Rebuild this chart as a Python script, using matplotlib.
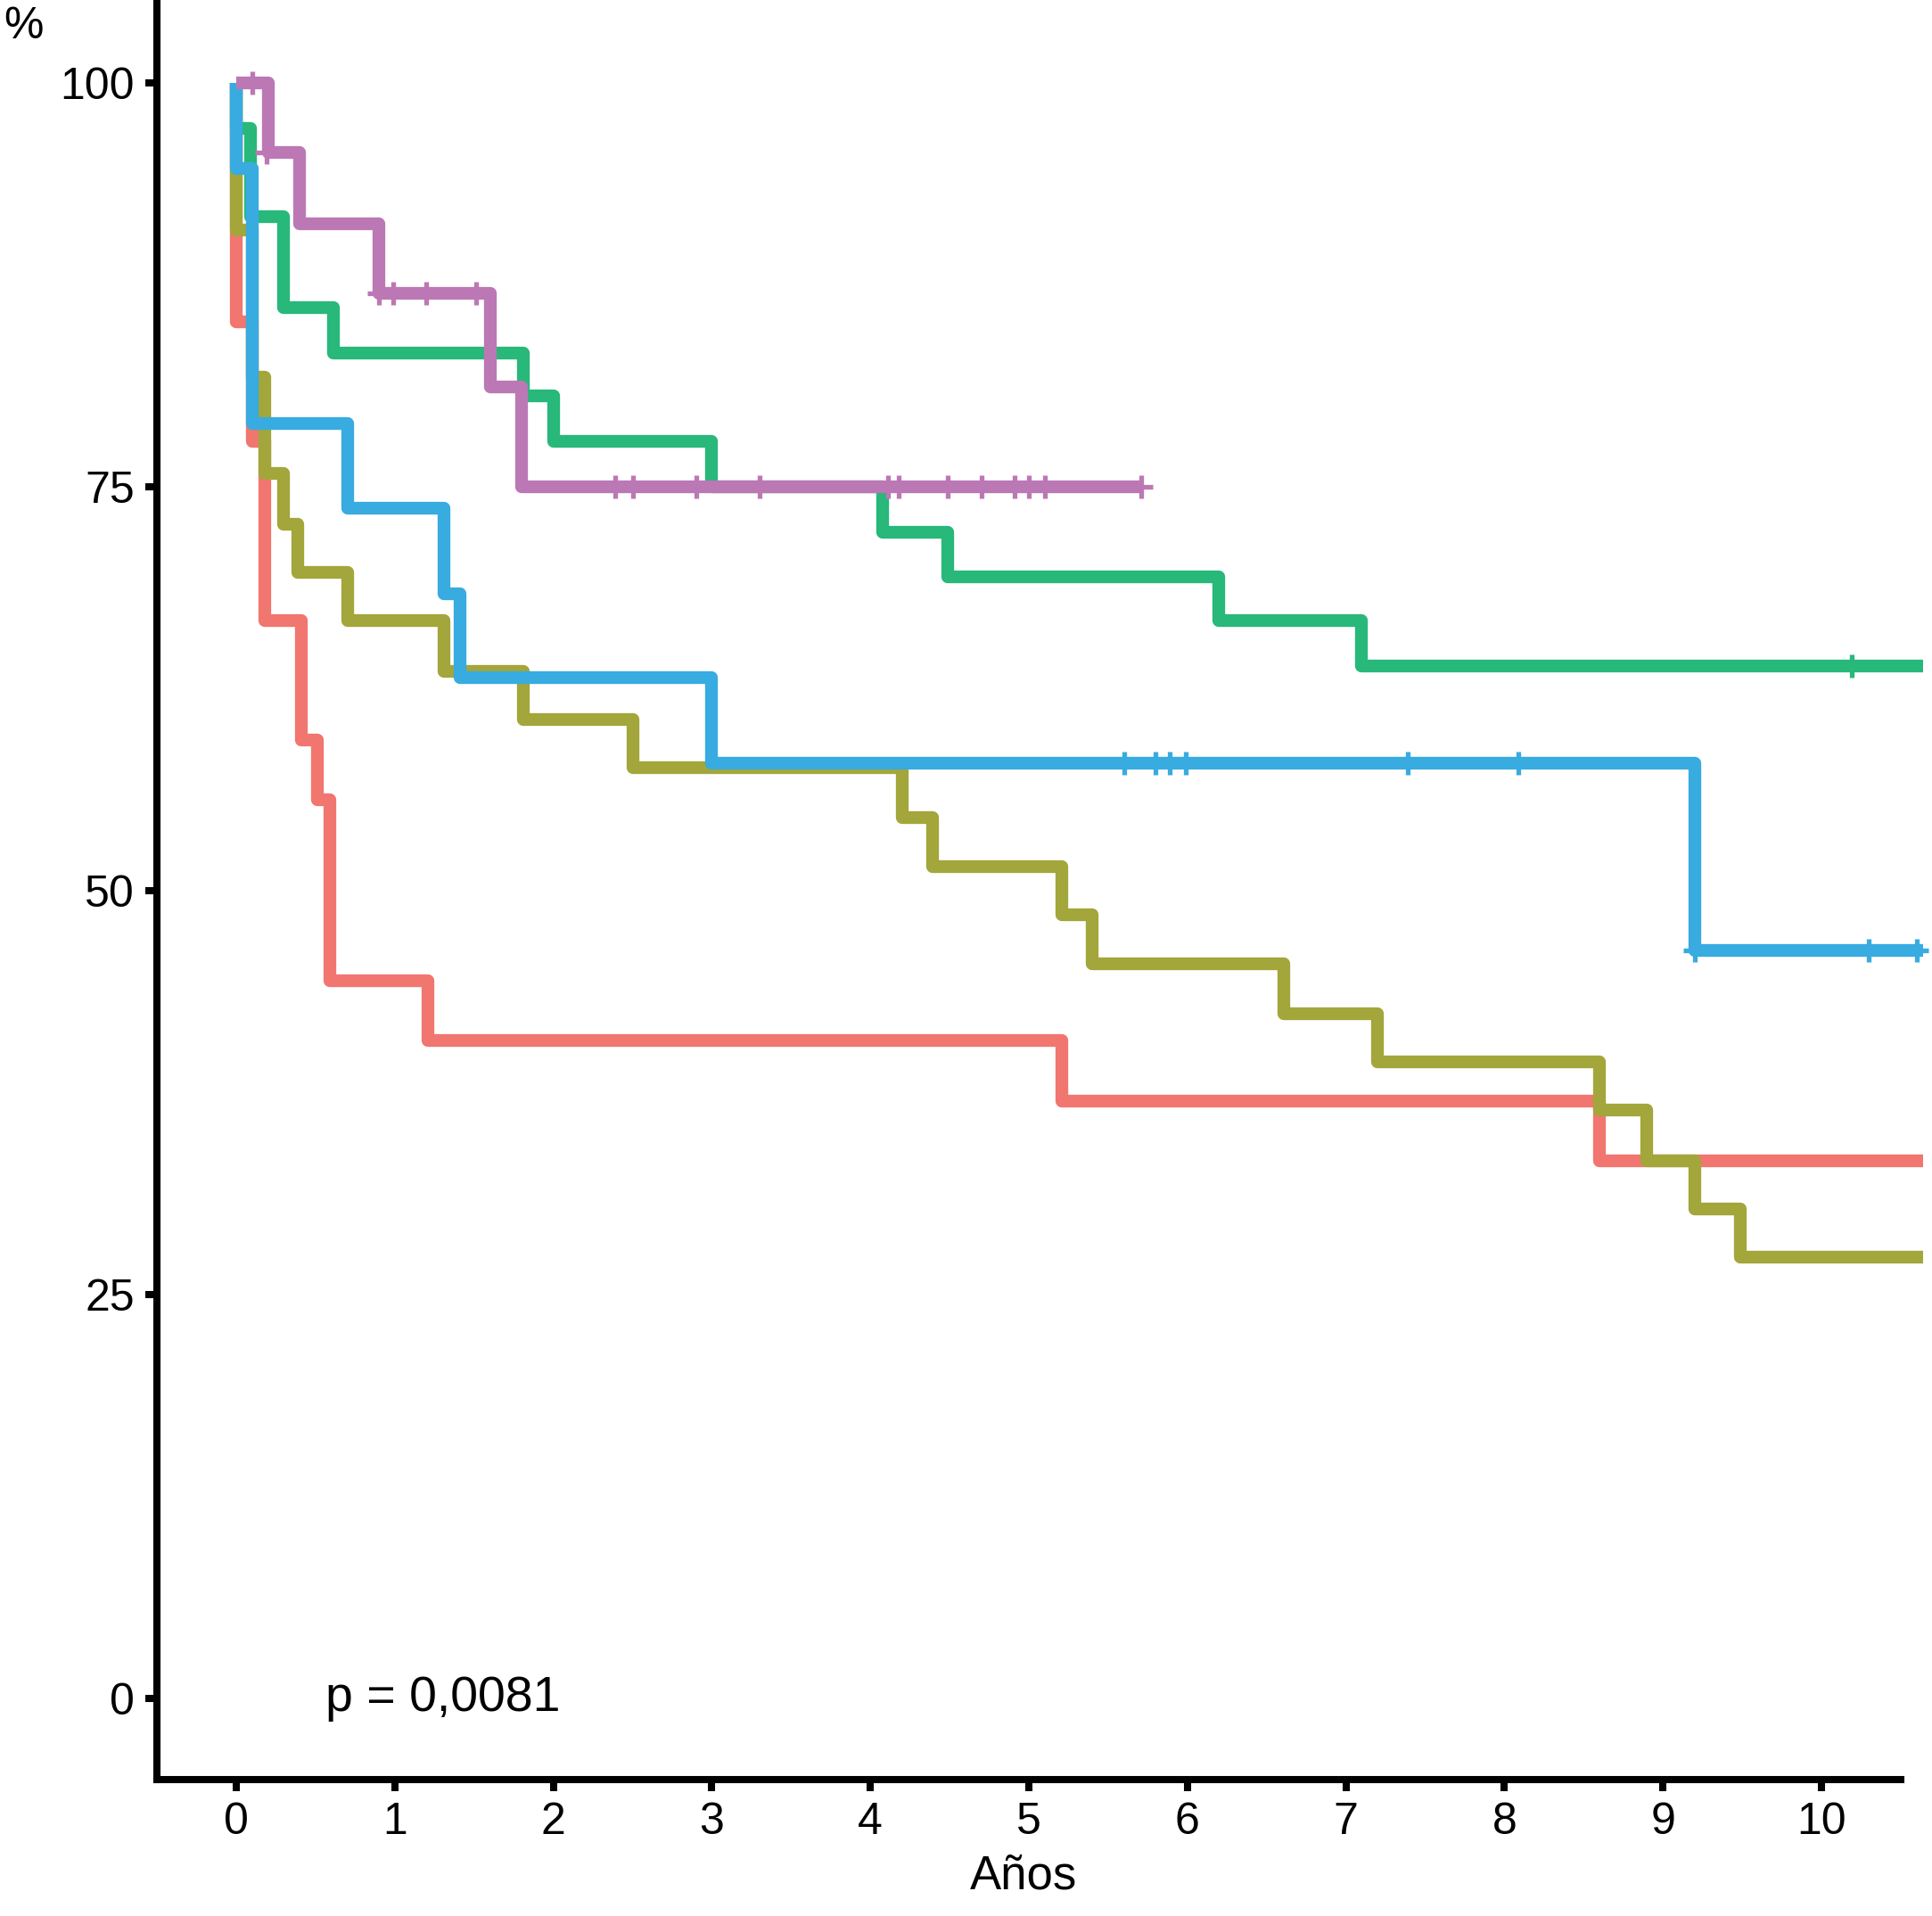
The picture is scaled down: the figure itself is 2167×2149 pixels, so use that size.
import matplotlib
matplotlib.use("Agg")
import matplotlib.pyplot as plt

plt.rcParams['font.family'] = ['Liberation Sans', 'DejaVu Sans']

# Kaplan-Meier curves (time in years, survival in %)
red_t = [0, 0, 0.10, 0.18, 0.41, 0.51, 0.59, 1.21, 5.21, 8.60, 10.64]
red_s = [100, 85.2, 77.8, 66.7, 59.3, 55.6, 44.4, 40.7, 37.0, 33.3, 33.3]

olive_t = [0, 0, 0.10, 0.18, 0.30, 0.39, 0.70, 1.31, 1.81, 2.50, 4.20, 4.39,
           5.21, 5.40, 6.61, 7.20, 8.60, 8.90, 9.20, 9.49, 10.64]
olive_s = [100, 90.9, 81.8, 75.8, 72.7, 69.7, 66.7, 63.6, 60.6, 57.6, 54.5, 51.5,
           48.5, 45.5, 42.4, 39.4, 36.4, 33.3, 30.3, 27.3, 27.3]

green_t = [0, 0, 0.09, 0.30, 0.61, 1.81, 2.00, 3.00, 4.08, 4.49, 6.20, 7.10, 10.64]
green_s = [100, 97.2, 91.7, 86.1, 83.3, 80.6, 77.8, 75.0, 72.2, 69.4, 66.7, 63.9, 63.9]
green_cens_t = [10.19]
green_cens_s = [63.9]

blue_t = [0, 0, 0.10, 0.70, 1.31, 1.41, 3.00, 9.20, 10.64]
blue_s = [100, 94.7, 78.9, 73.7, 68.4, 63.2, 57.9, 46.3, 46.3]
blue_cens_t = [5.60, 5.80, 5.89, 5.99, 7.39, 8.09, 9.20, 10.30, 10.60]
blue_cens_s = [57.9, 57.9, 57.9, 57.9, 57.9, 57.9, 46.3, 46.3, 46.3]

pink_t = [0, 0.20, 0.40, 0.90, 1.60, 1.80, 5.71]
pink_s = [100, 95.7, 91.3, 87.0, 81.2, 75.0, 75.0]
pink_cens_t = [0.10, 0.19, 0.90, 0.99, 1.20, 1.51, 2.39, 2.50, 2.90, 3.30, 4.11,
               4.18, 4.49, 4.70, 4.91, 5.00, 5.10, 5.71]
pink_cens_s = [100, 95.7, 87.0, 87.0, 87.0, 87.0] + [75.0] * 12

x_ticks = list(range(0, 11))
y_ticks = [0, 25, 50, 75, 100]
p_text = "p = 0,0081"

curves = [
    (red_t, red_s, [], [], '#F1766F'),
    (olive_t, olive_s, [], [], '#A3A63A'),
    (green_t, green_s, green_cens_t, green_cens_s, '#27B87A'),
    (blue_t, blue_s, blue_cens_t, blue_cens_s, '#38ABE0'),
    (pink_t, pink_s, pink_cens_t, pink_cens_s, '#BC78B4'),
]

fig = plt.figure(figsize=(21.67, 21.49), dpi=100)
ax = fig.add_axes([0.0813, 0.0714, 0.9187, 0.9275])

for t, s, ct, cs, cor in curves:
    ax.step(t, s, where='post', color=cor, linewidth=10.3,
            solid_joinstyle='round', solid_capstyle='butt', zorder=2)
    if ct:
        ax.plot(ct, cs, linestyle='none', marker='|', markersize=19,
                markeredgewidth=3.8, color=cor, zorder=3)
        ax.plot(ct, cs, linestyle='none', marker='_', markersize=19,
                markeredgewidth=3.8, color=cor, zorder=3)

ax.set_xlim(-0.5, 10.697)
ax.set_ylim(-5, 105)
ax.set_xticks(x_ticks)
ax.set_yticks(y_ticks)
ax.tick_params(axis='both', labelsize=36, length=9.5, width=5.8, pad=8.5,
               color='black', labelcolor='black')

for lado in ['top', 'right']:
    ax.spines[lado].set_visible(False)
ax.spines['left'].set_linewidth(5.8)
ax.spines['bottom'].set_linewidth(5.8)
ax.spines['bottom'].set_bounds(-0.5, 10.5)
ax.spines['left'].set_capstyle('projecting')
ax.spines['bottom'].set_capstyle('projecting')

ax.text(0.56, 0, p_text, fontsize=40, ha='left', va='center')

fig.text(0.5298, 0.0205, "Años", fontsize=38, ha='center', va='center')
fig.text(0.012, 0.986, "%", fontsize=36, ha='center', va='center')

fig.savefig("out.png", dpi=100, facecolor='white')
